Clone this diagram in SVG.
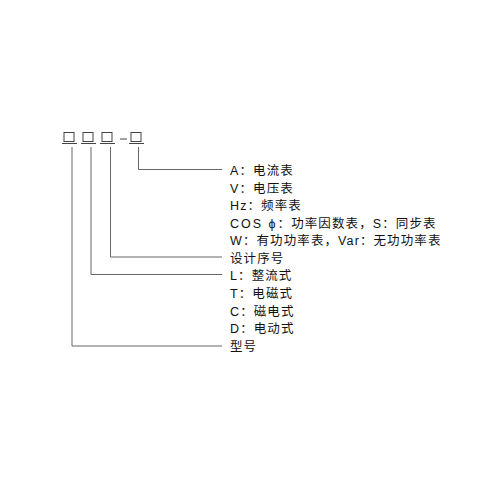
<svg xmlns="http://www.w3.org/2000/svg" width="500" height="500" viewBox="0 0 500 500">
<style>
.bx{fill:none;stroke:#444;stroke-width:1}
.ul{stroke:#444;stroke-width:1}
.cn{fill:none;stroke:#666;stroke-width:1}
.t{font-family:"Liberation Sans","Noto Sans CJK SC",sans-serif;font-size:12.5px;letter-spacing:1.1px;fill:#111}
.w{letter-spacing:2px}
</style>
<rect width="500" height="500" fill="#fff"/>
<g id="code">
<g id="box1"><rect class="bx" x="64" y="132.5" width="10" height="9"/><line class="ul" x1="62" y1="143.5" x2="77" y2="143.5"/></g>
<g id="box2"><rect class="bx" x="83" y="132.5" width="10" height="9"/><line class="ul" x1="81" y1="143.5" x2="96" y2="143.5"/></g>
<g id="box3"><rect class="bx" x="102" y="132.5" width="10" height="9"/><line class="ul" x1="100" y1="143.5" x2="115" y2="143.5"/></g>
<line id="dash" class="ul" x1="120" y1="139" x2="127" y2="139"/>
<g id="box4"><rect class="bx" x="131" y="132.5" width="10" height="9"/><line class="ul" x1="129" y1="143.5" x2="144" y2="143.5"/></g>
</g>
<g id="connectors">
<polyline class="cn" points="138.5,147 138.5,169.5 222,169.5"/>
<polyline class="cn" points="110.5,147 110.5,257 222,257"/>
<polyline class="cn" points="91,147 91,274.5 222,274.5"/>
<polyline class="cn" points="72,147 72,346 222,346"/>
</g>
<g id="type-meter">
<text class="t" x="230" y="175">A：电流表</text>
<text class="t" x="230" y="192.6">V：电压表</text>
<text class="t" x="230" y="210.2">Hz：频率表</text>
<text class="t" x="230" y="227.8"><tspan class="w">COS ϕ</tspan>：功率因数表，S：同步表</text>
<text class="t" x="230" y="245.3">W：有功功率表，Var：无功功率表</text>
</g>
<g id="design-no"><text class="t" x="230" y="262.9">设计序号</text></g>
<g id="type-principle">
<text class="t" x="230" y="280.4">L：整流式</text>
<text class="t" x="230" y="298">T：电磁式</text>
<text class="t" x="230" y="315.5">C：磁电式</text>
<text class="t" x="230" y="333.1">D：电动式</text>
</g>
<g id="model"><text class="t" x="230" y="350.6">型号</text></g>
</svg>
